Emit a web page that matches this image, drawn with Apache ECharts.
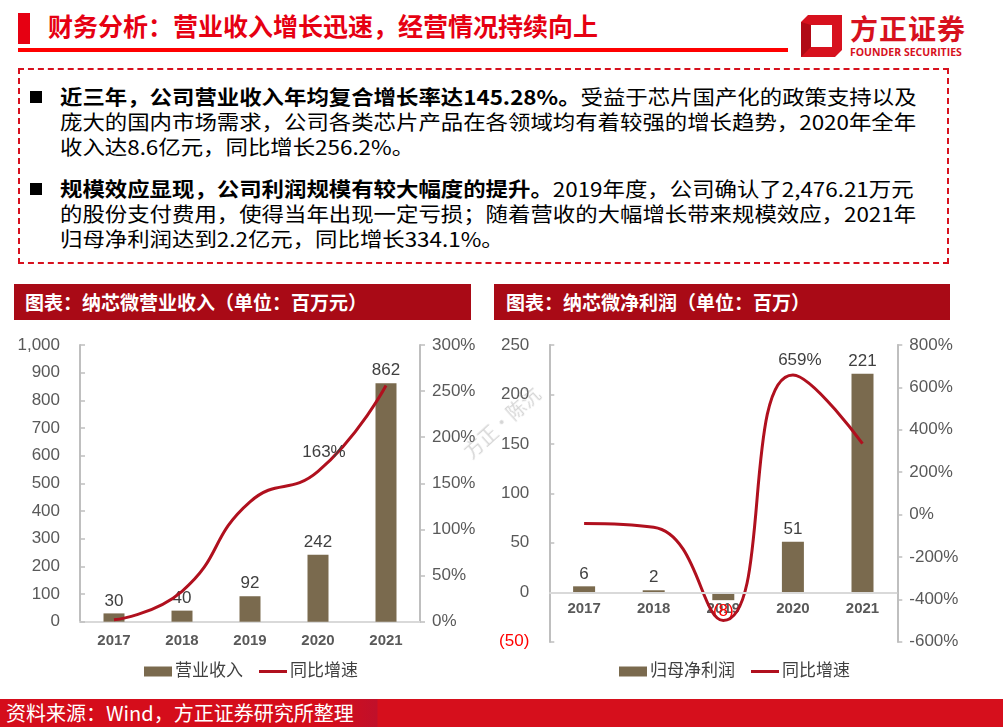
<!DOCTYPE html>
<html><head><meta charset="utf-8">
<script src="https://cdn.jsdelivr.net/npm/echarts@6/dist/echarts.min.js"></script>
<style>
html,body{margin:0;padding:0;}
body{width:1003px;height:727px;position:relative;overflow:hidden;background:#fff;font-family:"Noto Sans CJK SC","Liberation Sans",sans-serif;}
.abs{position:absolute;white-space:nowrap;}
.line{position:absolute;left:60px;font-size:20px;line-height:26px;height:26px;color:#000;transform:scaleX(1.12);transform-origin:left center;white-space:nowrap;}
.bullet{position:absolute;left:30px;width:12px;height:12px;background:#000;}
.hdr{position:absolute;top:284px;height:36px;background:#A90A16;color:#fff;font-weight:bold;font-size:19px;line-height:36px;white-space:nowrap;}
</style></head><body>

<!-- header -->
<div class="abs" style="left:18px;top:13px;width:12px;height:31px;background:#E60012;"></div>
<div class="abs" style="left:48px;top:9px;font-size:25px;line-height:32px;font-weight:bold;color:#E60012;">财务分析：营业收入增长迅速，经营情况持续向上</div>
<div class="abs" style="left:18px;top:48px;width:770px;height:4px;background:#FF0000;"></div>

<!-- logo -->
<svg class="abs" style="left:798px;top:12px;" width="50" height="48" viewBox="0 0 50 48">
  <polygon points="10,3 44,3 44,38 37,45 3,45 3,10" fill="#D7111E"/>
  <polygon points="13,13 34,13 34,35 13,35" fill="#fff"/>
  <polygon points="3,45 13,35 13,13 3,10" fill="#B00A16"/>
</svg>
<div class="abs" style="left:850px;top:12px;font-size:28px;line-height:32px;font-weight:bold;color:#D7111E;letter-spacing:1px;">方正证券</div>
<div class="abs" style="left:850px;top:46px;font-size:10.5px;line-height:12px;font-weight:bold;color:#D7111E;font-family:'Open Sans','Liberation Sans',sans-serif;">FOUNDER SECURITIES</div>

<!-- dashed box -->
<div class="abs" style="left:18px;top:68px;width:927px;height:192px;border:2px dashed #D7111E;"></div>

<div class="bullet" style="top:91px;"></div>
<div class="line" style="top:84px;"><b>近三年，公司营业收入年均复合增长率达145.28%。</b>受益于芯片国产化的政策支持以及</div>
<div class="line" style="top:109px;">庞大的国内市场需求，公司各类芯片产品在各领域均有着较强的增长趋势，2020年全年</div>
<div class="line" style="top:134px;">收入达8.6亿元，同比增长256.2%。</div>

<div class="bullet" style="top:183px;"></div>
<div class="line" style="top:176px;"><b>规模效应显现，公司利润规模有较大幅度的提升。</b>2019年度，公司确认了2,476.21万元</div>
<div class="line" style="top:201px;">的股份支付费用，使得当年出现一定亏损；随着营收的大幅增长带来规模效应，2021年</div>
<div class="line" style="top:226px;">归母净利润达到2.2亿元，同比增长334.1%。</div>

<!-- section headers -->
<div class="hdr" style="left:14px;width:457px;"><span style="margin-left:11px;">图表：纳芯微营业收入（单位：百万元）</span></div>
<div class="hdr" style="left:494px;width:456px;"><span style="margin-left:12px;">图表：纳芯微净利润（单位：百万）</span></div>

<div id="c1" class="abs" style="left:0;top:320px;width:480px;height:370px;"></div>
<div id="c2" class="abs" style="left:490px;top:320px;width:513px;height:370px;"></div>

<div class="abs" style="left:466px;top:440px;font-size:19px;color:rgba(150,150,150,0.4);transform:rotate(-42deg);transform-origin:left center;">方正·陈沆</div>

<!-- footer -->
<div class="abs" style="left:0;top:699px;width:1003px;height:28px;background:linear-gradient(to right,#D50D1B 0px,#D50D1B 330px,#C0102A 377px,#D60F1C 378px,#D60F1C 1003px);"></div>
<div class="abs" style="left:6px;top:699px;font-size:20px;line-height:28px;color:#fff;">资料来源：Wind，方正证券研究所整理</div>

<script>
// ---- data ----
const years = ['2017', '2018', '2019', '2020', '2021'];
const revenue = [30, 40, 92, 242, 862];
const revenueGrowth = [2, 33, 130, 163, 256];
const netProfit = [6, 2, -8, 51, 221];
const profitGrowth = [-42, -60, -500, 659, 334.1];
const revenueTicks = { min: 0, max: 1000, interval: 100 };
const revenueGrowthTicks = { min: 0, max: 300, interval: 50 };
const profitTicks = { min: -50, max: 250, interval: 50 };
const profitGrowthTicks = { min: -600, max: 800, interval: 200 };
const revenueLabelIndex = 3;
const profitLabelIndex = 3;

const BAR = '#7A6A4E';
const LINE = '#B0101E';
const FONT = '"Liberation Sans","Noto Sans CJK SC",sans-serif';
const AXC = '#BFBFBF';

function yAxisBase(t, right) {
  return {
    type: 'value', min: t.min, max: t.max, interval: t.interval,
    position: right ? 'right' : 'left',
    axisLine: { show: true, onZero: false, lineStyle: { color: AXC, width: 2 } },
    axisTick: { show: true, inside: !right, length: 5, lineStyle: { color: AXC, width: 1.5 } },
    splitLine: { show: false },
    axisLabel: { fontSize: 17, color: '#595959', fontFamily: FONT, margin: right ? 12 : 20 }
  };
}
function xAxisBase() {
  return {
    type: 'category', data: years,
    axisLine: { show: true, onZero: false, lineStyle: { color: '#D9D9D9', width: 2 } },
    axisTick: { show: false },
    axisLabel: { fontSize: 15, fontWeight: 'bold', color: '#595959', fontFamily: FONT, margin: 12 }
  };
}
function legendBase(left, barName) {
  return {
    left: left, top: 343, padding: 0, itemWidth: 28, itemHeight: 10, itemGap: 16,
    data: [{ name: barName, icon: 'rect' }, { name: '同比增速', icon: 'path://M0,0H28V3H0Z' }],
    textStyle: { fontSize: 17, color: '#404040', fontFamily: FONT, padding: [0, 0, 0, -2] }
  };
}

// ---- chart 1 ----
const c1 = echarts.init(document.getElementById('c1'));
const y1l = yAxisBase(revenueTicks, false);
y1l.axisLabel.formatter = v => Number(v).toLocaleString('en-US');
const y1r = yAxisBase(revenueGrowthTicks, true);
y1r.axisLabel.formatter = '{value}%';
c1.setOption({
  animation: false,
  grid: { left: 80, right: 60, top: 25, bottom: 68.3 },
  xAxis: xAxisBase(),
  yAxis: [y1l, y1r],
  legend: legendBase(144, '营业收入'),
  series: [
    { name: '营业收入', type: 'bar', data: revenue, barWidth: 21,
      itemStyle: { color: BAR },
      label: { show: true, position: 'top', distance: 4, fontSize: 17, color: '#404040', fontFamily: FONT } },
    { name: '同比增速', type: 'line', yAxisIndex: 1, smooth: true, symbol: 'none',
      lineStyle: { color: LINE, width: 3 }, itemStyle: { color: LINE },
      data: revenueGrowth.map((v, i) => i === revenueLabelIndex ? {
        value: v, symbol: 'circle', symbolSize: 1,
        label: { show: true, position: 'top', distance: 10, offset: [6, 0], formatter: '{c}%', fontSize: 17, color: '#404040', fontFamily: FONT }
      } : v) }
  ]
});

// ---- chart 2 ----
const c2 = echarts.init(document.getElementById('c2'));
const y2l = yAxisBase(profitTicks, false);
y2l.axisLabel.formatter = v => v < 0 ? '(' + (-v) + ')' : String(v);
y2l.axisLabel.color = v => parseFloat(v) < 0 ? '#FF0000' : '#595959';
const y2r = yAxisBase(profitGrowthTicks, true);
y2r.axisLabel.formatter = '{value}%';
const x2 = xAxisBase();
x2.axisLine.show = false;
x2.axisLabel.margin = -40;
c2.setOption({
  animation: false,
  grid: { left: 59.3, right: 105.7, top: 25, bottom: 48.3 },
  xAxis: x2,
  yAxis: [y2l, y2r],
  legend: legendBase(129, '归母净利润'),
  series: [
    { name: '归母净利润', type: 'bar', data: netProfit.map(v => v < 0 ? {
        value: v, label: { position: 'bottom', color: '#FF0000', distance: 3 } } : v),
      barWidth: 22, itemStyle: { color: BAR },
      label: { show: true, position: 'top', distance: 4, fontSize: 17, color: '#404040', fontFamily: FONT,
        formatter: p => p.value < 0 ? '(' + (-p.value) + ')' : String(p.value) },
      markLine: { silent: true, symbol: 'none', label: { show: false },
        lineStyle: { color: '#D9D9D9', width: 2, type: 'solid' }, data: [{ yAxis: 0 }] } },
    { name: '同比增速', type: 'line', yAxisIndex: 1, smooth: true, symbol: 'none',
      lineStyle: { color: LINE, width: 3 }, itemStyle: { color: LINE },
      data: profitGrowth.map((v, i) => i === profitLabelIndex ? {
        value: v, symbol: 'circle', symbolSize: 1,
        label: { show: true, position: 'top', distance: 6, offset: [7, 0], formatter: '{c}%', fontSize: 17, color: '#404040', fontFamily: FONT }
      } : v) }
  ]
});
</script>
</body></html>
